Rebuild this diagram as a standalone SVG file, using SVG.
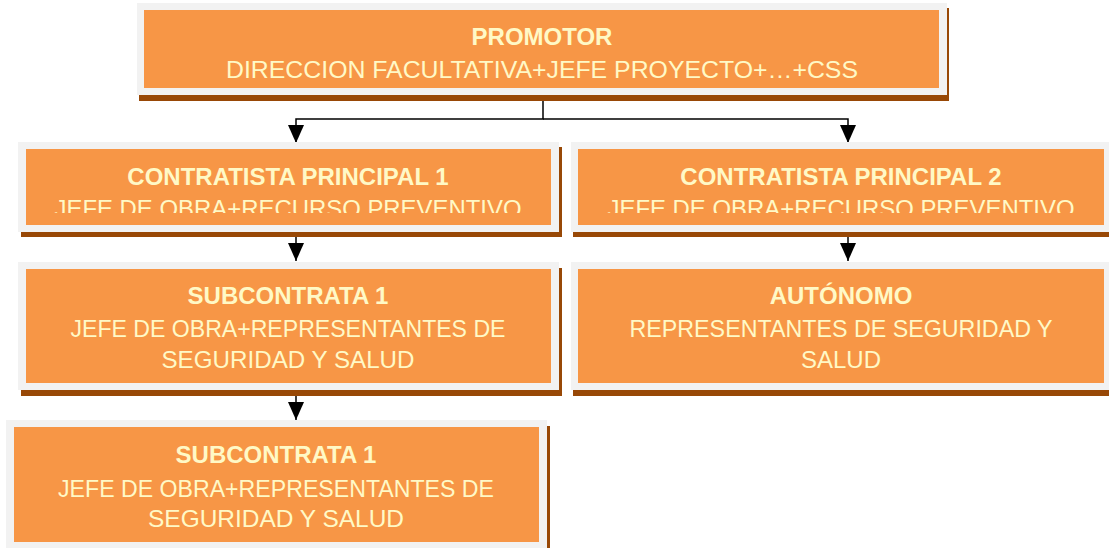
<svg xmlns="http://www.w3.org/2000/svg" width="1109" height="548" viewBox="0 0 1109 548">
  <style>
    .shadow { fill: #984806; }
    .frame { fill: #F2F2F2; }
    .box { fill: #F79646; }
    text { font-family: "Liberation Sans", Arial, sans-serif; fill: #FFF9C6; text-anchor: middle; }
    .title { font-weight: bold; font-size: 24px; }
    .body { font-size: 24px; }
    .conn { stroke: #000; stroke-width: 1.5; fill: none; }
  </style>
  <defs>
    <marker id="arr" viewBox="0 0 18 16" refX="18" refY="8" markerWidth="18" markerHeight="16" markerUnits="userSpaceOnUse" orient="auto">
      <path d="M0,0 L18,8 L0,16 Z" fill="#000"/>
    </marker>
    <clipPath id="clipCP1"><rect x="26" y="149" width="525" height="64"/></clipPath>
    <clipPath id="clipCP2"><rect x="578" y="149" width="526" height="64"/></clipPath>
  </defs>

  <g id="connectors">
    <path class="conn" d="M543,95 V119 H296 V143" marker-end="url(#arr)"/>
    <path class="conn" d="M543,119 H848 V143" marker-end="url(#arr)"/>
    <path class="conn" d="M296,237 V261" marker-end="url(#arr)"/>
    <path class="conn" d="M848,237 V261" marker-end="url(#arr)"/>
    <path class="conn" d="M296,396 V420" marker-end="url(#arr)"/>
  </g>

  <g id="promotor">
    <rect class="shadow" x="139" y="8" width="810" height="93"/>
    <rect class="frame" x="137" y="3" width="810" height="92"/>
    <rect class="box" x="144" y="10" width="795" height="78"/>
    <text class="title" x="542" y="45">PROMOTOR</text>
    <text class="body" x="542" y="78" textLength="632" lengthAdjust="spacingAndGlyphs">DIRECCION FACULTATIVA+JEFE PROYECTO+…+CSS</text>
  </g>

  <g id="contratista1">
    <rect class="shadow" x="21" y="147" width="541" height="90"/>
    <rect class="frame" x="18" y="142" width="541" height="90"/>
    <rect class="box" x="26" y="149" width="525" height="76"/>
    <text class="title" x="288" y="185">CONTRATISTA PRINCIPAL 1</text>
    <text class="body" x="288" y="217" clip-path="url(#clipCP1)" textLength="467" lengthAdjust="spacingAndGlyphs">JEFE DE OBRA+RECURSO PREVENTIVO</text>
  </g>

  <g id="contratista2">
    <rect class="shadow" x="573" y="147" width="541" height="90"/>
    <rect class="frame" x="571" y="142" width="541" height="90"/>
    <rect class="box" x="578" y="149" width="526" height="76"/>
    <text class="title" x="841" y="185">CONTRATISTA PRINCIPAL 2</text>
    <text class="body" x="841" y="217" clip-path="url(#clipCP2)" textLength="467" lengthAdjust="spacingAndGlyphs">JEFE DE OBRA+RECURSO PREVENTIVO</text>
  </g>

  <g id="subcontrata1">
    <rect class="shadow" x="21" y="268" width="541" height="128"/>
    <rect class="frame" x="18" y="262" width="541" height="128"/>
    <rect class="box" x="26" y="269" width="525" height="114"/>
    <text class="title" x="288" y="304">SUBCONTRATA 1</text>
    <text class="body" x="288" y="337" textLength="435" lengthAdjust="spacingAndGlyphs">JEFE DE OBRA+REPRESENTANTES DE</text>
    <text class="body" x="288" y="368" textLength="253" lengthAdjust="spacingAndGlyphs">SEGURIDAD Y SALUD</text>
  </g>

  <g id="autonomo">
    <rect class="shadow" x="573" y="268" width="541" height="128"/>
    <rect class="frame" x="571" y="262" width="541" height="128"/>
    <rect class="box" x="578" y="269" width="526" height="114"/>
    <text class="title" x="841" y="304">AUTÓNOMO</text>
    <text class="body" x="841" y="337" textLength="423" lengthAdjust="spacingAndGlyphs">REPRESENTANTES DE SEGURIDAD Y</text>
    <text class="body" x="841" y="368">SALUD</text>
  </g>

  <g id="subcontrata1b">
    <rect class="shadow" x="9" y="426" width="541" height="128"/>
    <rect class="frame" x="6" y="420" width="541" height="128"/>
    <rect class="box" x="14" y="427" width="525" height="115"/>
    <text class="title" x="276" y="463">SUBCONTRATA 1</text>
    <text class="body" x="276" y="497" textLength="436" lengthAdjust="spacingAndGlyphs">JEFE DE OBRA+REPRESENTANTES DE</text>
    <text class="body" x="276" y="527" textLength="256" lengthAdjust="spacingAndGlyphs">SEGURIDAD Y SALUD</text>
  </g>
</svg>
